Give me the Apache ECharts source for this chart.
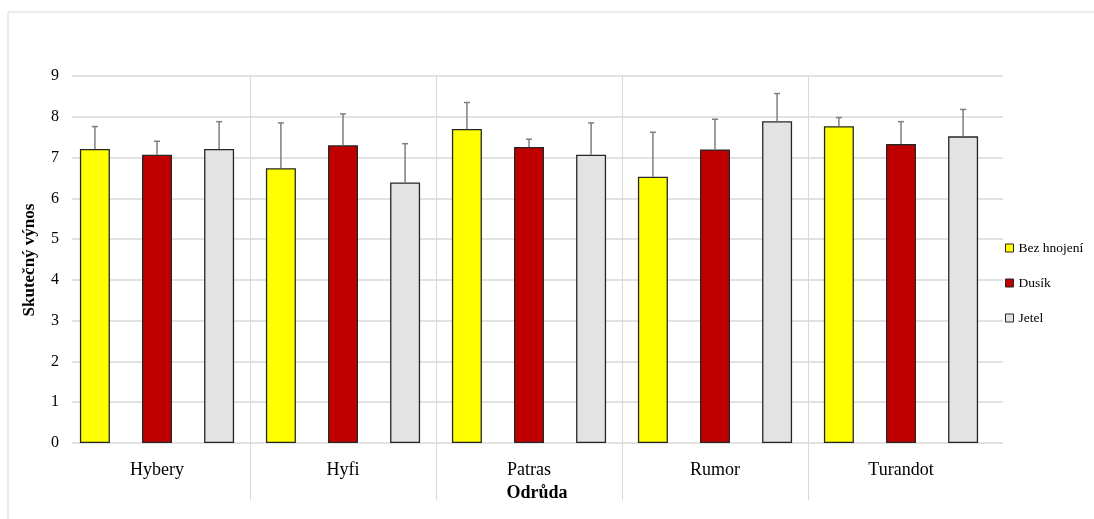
<!DOCTYPE html>
<html>
<head>
<meta charset="utf-8">
<script src="https://cdn.jsdelivr.net/npm/echarts@6/dist/echarts.min.js"></script>
<style>
html,body{margin:0;padding:0;background:#fff;}
#chart{width:1094px;height:519px;}
</style>
</head>
<body>
<div id="chart"></div>
<script>
const categories = ['Hybery', 'Hyfi', 'Patras', 'Rumor', 'Turandot'];
const seriesNames = ['Bez hnojení', 'Dusík', 'Jetel'];
const bezHnojeni = [7.21, 6.74, 7.70, 6.53, 7.77];
const bezHnojeniErr = [0.55, 1.11, 0.65, 1.09, 0.21];
const dusik = [7.07, 7.30, 7.26, 7.20, 7.33];
const dusikErr = [0.33, 0.77, 0.19, 0.74, 0.55];
const jetel = [7.21, 6.39, 7.07, 7.89, 7.52];
const jetelErr = [0.67, 0.95, 0.78, 0.68, 0.66];
const yTicks = [0, 1, 2, 3, 4, 5, 6, 7, 8, 9];

const values = [bezHnojeni, dusik, jetel];
const errors = [bezHnojeniErr, dusikErr, jetelErr];
const colors = ['#FFFF00', '#C00000', '#E3E3E3'];
const BAR_W = 30;
const GAP = 1.07;
const FONT = '"Liberation Serif", "Times New Roman", serif';
const GRIDC = '#d9d9d9';

const chart = echarts.init(document.getElementById('chart'), null, {renderer: 'canvas'});

const barSeries = seriesNames.map((n, i) => ({
  name: n,
  type: 'bar',
  xAxisIndex: 0,
  yAxisIndex: 0,
  barWidth: BAR_W,
  barGap: (GAP * 100) + '%',
  data: values[i],
  itemStyle: {color: colors[i], borderColor: '#262626', borderWidth: 1.3},
  z: 3
}));

const errSeries = seriesNames.map((n, i) => ({
  name: n + ' err',
  type: 'custom',
  xAxisIndex: 0,
  yAxisIndex: 0,
  z: 4,
  silent: true,
  data: categories.map((c, k) => [k, values[i][k], errors[i][k]]),
  renderItem: function (params, api) {
    const off = (i - 1) * BAR_W * (1 + GAP);
    const b = api.coord([api.value(0), api.value(1)]);
    const t = api.coord([api.value(0), api.value(1) + api.value(2)]);
    const x = b[0] + off;
    const style = {stroke: '#7f7f7f', lineWidth: 1.5};
    return {
      type: 'group',
      children: [
        {type: 'line', shape: {x1: x, y1: b[1], x2: x, y2: t[1]}, style: style},
        {type: 'line', shape: {x1: x - 3, y1: t[1], x2: x + 3, y2: t[1]}, style: style}
      ]
    };
  }
}));

const option = {
  animation: false,
  backgroundColor: '#fff',
  textStyle: {fontFamily: FONT},
  graphic: [
    {type: 'rect', shape: {x: 8, y: 12, width: 1100, height: 520}, style: {fill: 'none', stroke: GRIDC, lineWidth: 1}, z: -1},
    {type: 'text', x: 537, y: 493, style: {text: 'Odrůda', font: 'bold 18px ' + FONT, fill: '#000', align: 'center', verticalAlign: 'middle'}},
    {type: 'text', x: 30, y: 260, rotation: Math.PI / 2, style: {text: 'Skutečný výnos', font: 'bold 17px ' + FONT, fill: '#000', align: 'center', verticalAlign: 'middle'}}
  ],
  legend: {
    orient: 'vertical',
    left: 1005,
    top: 240,
    padding: 0,
    itemWidth: 8,
    itemHeight: 8,
    itemGap: 19,
    icon: 'rect',
    data: seriesNames,
    itemStyle: {borderColor: '#262626', borderWidth: 1},
    textStyle: {fontFamily: FONT, fontSize: 13.5, color: '#000', lineHeight: 16, padding: [0, 0, 0, 0]}
  },
  grid: [
    {left: 64, right: 100, top: 76, bottom: 76},
    {left: 72, right: 91, top: 76, bottom: 76}
  ],
  xAxis: [
    {
      type: 'category', gridIndex: 0, data: categories,
      axisLine: {show: false}, axisTick: {show: false}, splitLine: {show: false},
      axisLabel: {fontFamily: FONT, fontSize: 18, color: '#000', margin: 18}
    },
    {type: 'value', gridIndex: 1, min: 0, max: 1, show: false},
    {
      type: 'value', gridIndex: 0, min: 0, max: 5, interval: 1, position: 'bottom',
      axisLine: {show: false}, axisLabel: {show: false},
      axisTick: {show: true, length: 57, customValues: [1, 2, 3, 4], lineStyle: {color: GRIDC, width: 1}},
      splitLine: {show: true, lineStyle: {color: GRIDC, width: 1}}
    }
  ],
  yAxis: [
    {type: 'value', gridIndex: 0, min: 0, max: 9, interval: 1, show: false, splitLine: {show: false}},
    {
      type: 'value', gridIndex: 1, min: 0, max: 9, interval: 1,
      axisLine: {show: false}, axisTick: {show: false},
      axisLabel: {fontFamily: FONT, fontSize: 16, color: '#000', margin: 13,
        formatter: v => (yTicks.indexOf(v) >= 0 ? String(v) : '')},
      splitLine: {show: true, lineStyle: {color: GRIDC, width: 1.5}}
    }
  ],
  series: barSeries.concat(errSeries)
};

chart.setOption(option);
</script>
</body>
</html>
